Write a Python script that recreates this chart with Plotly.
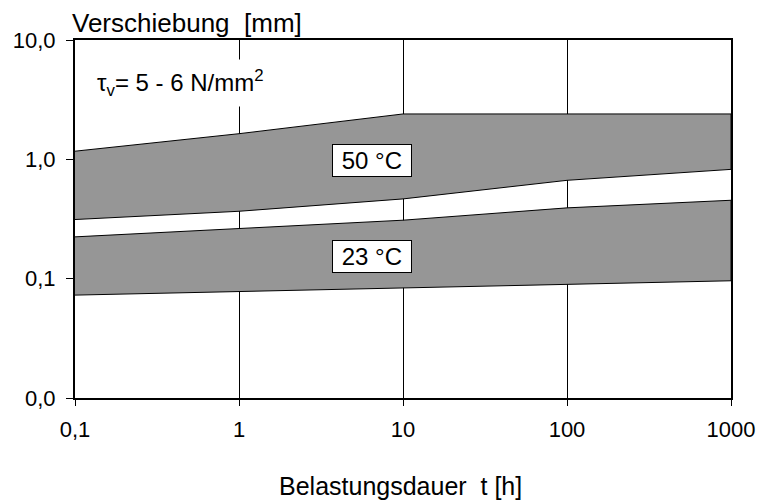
import math
import plotly.graph_objects as go

# Load duration [h]
t_hours = [0.1, 1, 10, 100, 1000]

# Displacement bands [mm]
upper_50 = [1.17, 1.64, 2.40, 2.40, 2.40]
lower_50 = [0.313, 0.367, 0.466, 0.667, 0.824]
upper_23 = [0.224, 0.263, 0.309, 0.392, 0.454]
lower_23 = [0.0728, 0.0776, 0.0828, 0.0894, 0.096]

band_labels = ["50 °C", "23 °C"]
label_x = [6.5, 6.5]
label_y = [0.97, 0.152]

x_ticks = [0.1, 1, 10, 100, 1000]
x_ticktext = ["0,1", "1", "10", "100", "1000"]
y_ticks = [0.01, 0.1, 1, 10]
y_ticktext = ["0,0", "0,1", "1,0", "10,0"]

FONT = "Liberation Sans, Arial, sans-serif"
GRAY = "#969696"

# plot area in pixels
L, R, T, B = 75, 731, 40, 398
W, H = 757, 502


def px_x(p):
    return (p - L) / (R - L)


def px_y(p):
    return (B - p) / (B - T)


fig = go.Figure()

for up, lo in [(upper_50, lower_50), (upper_23, lower_23)]:
    fig.add_trace(go.Scatter(
        x=t_hours + t_hours[::-1],
        y=up + lo[::-1],
        mode="lines",
        fill="toself",
        fillcolor=GRAY,
        line=dict(color="black", width=1),
        hoverinfo="skip",
        showlegend=False,
    ))

# temperature labels inside the bands (log axes take log10 positions)
for txt, lx, ly in zip(band_labels, label_x, label_y):
    fig.add_annotation(
        x=math.log10(lx), y=math.log10(ly), xref="x", yref="y",
        text="\u00a0" + txt + "\u00a0", showarrow=False,
        font=dict(family=FONT, size=24, color="black"),
        bgcolor="white", bordercolor="black", borderwidth=1, borderpad=2,
    )

# shear stress note
fig.add_annotation(
    x=px_x(90), y=px_y(83), xref="paper", yref="paper",
    xanchor="left", yanchor="middle",
    text="τ<sub>v</sub>= 5 - 6 N/mm<sup>2</sup>", showarrow=False,
    font=dict(family=FONT, size=24, color="black"),
    bgcolor="white", borderpad=6,
)

# y axis title above the plot
fig.add_annotation(
    x=px_x(70), y=px_y(23), xref="paper", yref="paper",
    xanchor="left", yanchor="middle",
    text="Verschiebung\u00a0\u00a0[mm]", showarrow=False,
    font=dict(family=FONT, size=26, color="black"),
)

# x axis title
fig.add_annotation(
    x=px_x(400), y=px_y(486), xref="paper", yref="paper",
    xanchor="center", yanchor="middle",
    text="Belastungsdauer\u00a0\u00a0t [h]", showarrow=False,
    font=dict(family=FONT, size=25, color="black"),
)

fig.update_xaxes(
    type="log", range=[-1, 3], automargin=False,
    tickvals=x_ticks, ticktext=x_ticktext,
    ticks="outside", ticklen=6, tickwidth=1, tickcolor="black",
    ticklabelstandoff=5,
    showline=True, linewidth=2, linecolor="black", mirror=True,
    showgrid=True, gridcolor="black", gridwidth=1,
    zeroline=False,
    tickfont=dict(family=FONT, size=22, color="black"),
)
fig.update_yaxes(
    type="log", range=[-2, 1], automargin=False,
    tickvals=y_ticks, ticktext=y_ticktext,
    ticks="outside", ticklen=7, tickwidth=1, tickcolor="black",
    ticklabelstandoff=6,
    showline=True, linewidth=2, linecolor="black", mirror=True,
    showgrid=False, zeroline=False,
    tickfont=dict(family=FONT, size=22, color="black"),
)

fig.update_layout(
    width=W, height=H,
    margin=dict(l=L, r=W - R, t=T, b=H - B),
    paper_bgcolor="white", plot_bgcolor="white",
    font=dict(family=FONT),
)

fig.write_html("out.html", config={"displayModeBar": False})
